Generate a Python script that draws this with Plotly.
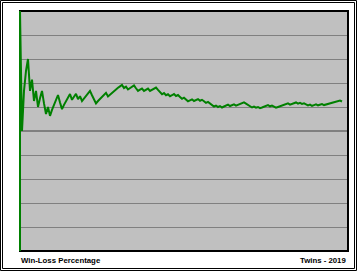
import plotly.graph_objects as go

# Game number and cumulative win-loss percentage (Twins 2019)
games = list(range(1, 163))
win_pct = [
    1.000, 0.500, 0.667, 0.750, 0.800, 0.667, 0.714, 0.625, 0.667, 0.600,
    0.636, 0.667, 0.615, 0.571, 0.600, 0.563, 0.588, 0.611, 0.632, 0.650,
    0.619, 0.591, 0.609, 0.625, 0.640, 0.654, 0.630, 0.643, 0.655, 0.633,
    0.645, 0.625, 0.636, 0.647, 0.657, 0.667, 0.649, 0.632, 0.615, 0.625,
    0.634, 0.643, 0.651, 0.659, 0.644, 0.652, 0.660, 0.667, 0.673, 0.680,
    0.686, 0.692, 0.679, 0.685, 0.673, 0.679, 0.684, 0.690, 0.678, 0.667,
    0.672, 0.677, 0.667, 0.672, 0.677, 0.667, 0.672, 0.676, 0.681, 0.671,
    0.662, 0.653, 0.658, 0.649, 0.653, 0.645, 0.649, 0.654, 0.646, 0.650,
    0.642, 0.634, 0.639, 0.631, 0.624, 0.628, 0.632, 0.625, 0.629, 0.633,
    0.626, 0.630, 0.624, 0.617, 0.621, 0.615, 0.608, 0.602, 0.606, 0.600,
    0.604, 0.598, 0.602, 0.606, 0.610, 0.604, 0.607, 0.611, 0.606, 0.609,
    0.613, 0.616, 0.619, 0.614, 0.609, 0.603, 0.598, 0.602, 0.597, 0.600,
    0.595, 0.598, 0.602, 0.605, 0.608, 0.603, 0.606, 0.602, 0.597, 0.600,
    0.603, 0.606, 0.609, 0.612, 0.615, 0.610, 0.613, 0.616, 0.619, 0.614,
    0.617, 0.613, 0.615, 0.611, 0.607, 0.610, 0.605, 0.608, 0.611, 0.607,
    0.609, 0.612, 0.608, 0.610, 0.613, 0.615, 0.618, 0.620, 0.623, 0.625,
    0.627, 0.623,
]
y_ticks = [0.0, 0.1, 0.2, 0.3, 0.4, 0.5, 0.6, 0.7, 0.8, 0.9, 1.0]
left_label = "Win-Loss Percentage"
right_label = "Twins - 2019"

W, H = 358, 271
L, R, T, B = 20, 10, 11, 20
PW, PH = W - L - R, H - T - B


def px(x):
    return (x - L) / PW


def py(y):
    return (H - B - y) / PH


fig = go.Figure()
fig.add_trace(go.Scatter(
    x=games, y=win_pct, mode="lines",
    line=dict(color="#008000", width=2),
    hoverinfo="skip", showlegend=False,
))

shapes = [
    # darker .500 line
    dict(type="line", xref="paper", yref="y", x0=0, x1=1, y0=0.5, y1=0.5,
         line=dict(color="#404040", width=1), layer="below"),
    # plot border
    dict(type="rect", xref="paper", yref="paper", x0=0, x1=1, y0=0, y1=1,
         line=dict(color="#000000", width=2), layer="above"),
    dict(type="line", xref="paper", yref="paper", x0=0, x1=0, y0=0, y1=1,
         line=dict(color="#008000", width=2), layer="above"),
    # double outer frame
    dict(type="rect", xref="paper", yref="paper",
         x0=px(0.5), x1=px(356.5), y0=py(270.5), y1=py(0.5),
         line=dict(color="#000000", width=1), layer="above"),
    dict(type="rect", xref="paper", yref="paper",
         x0=px(2.5), x1=px(354.5), y0=py(268.5), y1=py(2.5),
         line=dict(color="#000000", width=1), layer="above"),
]

font = dict(family="Liberation Sans, Arial, sans-serif", size=7.8,
            color="#000000", weight="bold")
annotations = [
    dict(text=left_label, xref="paper", yref="paper", x=px(19), y=py(260),
         xanchor="left", yanchor="middle", showarrow=False, font=font),
    dict(text=right_label, xref="paper", yref="paper", x=px(348), y=py(260),
         xanchor="right", yanchor="middle", showarrow=False, font=font),
]

fig.update_layout(
    width=W, height=H,
    margin=dict(l=L, r=R, t=T, b=B, pad=0),
    paper_bgcolor="#FFFFFF",
    plot_bgcolor="#C0C0C0",
    xaxis=dict(range=[1, 165], showgrid=False, zeroline=False,
               showticklabels=False, ticks="", showline=False, fixedrange=True),
    yaxis=dict(range=[0, 1], tickvals=y_ticks, showgrid=True,
               gridcolor="#808080", gridwidth=1, zeroline=False,
               showticklabels=False, ticks="", showline=False, fixedrange=True),
    shapes=shapes,
    annotations=annotations,
    showlegend=False,
)

fig.write_html("out.html", config={"displayModeBar": False})
